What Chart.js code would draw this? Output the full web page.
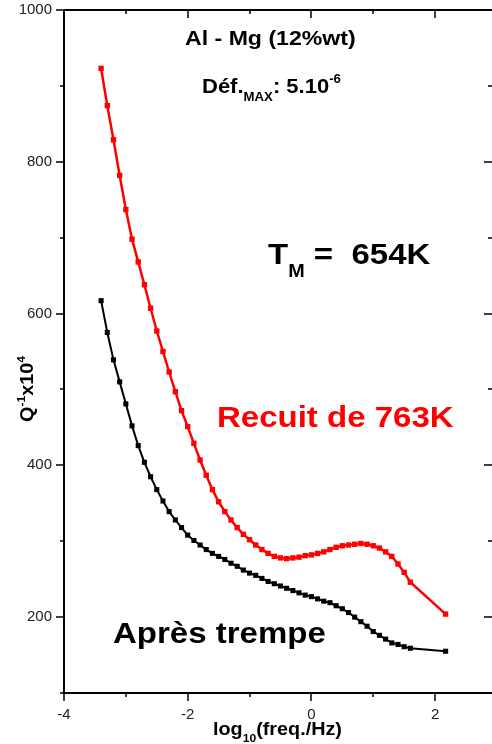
<!DOCTYPE html>
<html>
<head>
<meta charset="utf-8">
<script src="https://cdn.jsdelivr.net/npm/chart.js@4/dist/chart.umd.min.js"></script>
<style>
  html, body { margin: 0; padding: 0; background: #fff; }
  #box { width: 492px; height: 744px; }
</style>
</head>
<body>
<div id="box"><canvas id="dampingChart" width="492" height="744"></canvas></div>
<script>
// log10(freq/Hz) of each measured point
var logFreq = [-3.4, -3.3, -3.2, -3.1, -3.0, -2.9, -2.8, -2.7, -2.6, -2.5,
  -2.4, -2.3, -2.2, -2.1, -2.0, -1.9, -1.8, -1.7, -1.6, -1.5,
  -1.4, -1.3, -1.2, -1.1, -1.0, -0.9, -0.8, -0.7, -0.6, -0.5,
  -0.4, -0.3, -0.2, -0.1, 0.0, 0.1, 0.2, 0.3, 0.4, 0.5,
  0.6, 0.7, 0.8, 0.9, 1.0, 1.1, 1.2, 1.3, 1.4, 1.5,
  1.6, 2.17];

// Q^-1 x 10^4, annealed at 763K (red)
var recuit763K = [923, 874, 829, 782, 737, 698, 668, 638, 607, 577,
  550, 523, 497, 472, 451, 429, 407, 387, 368, 352,
  339, 328, 318, 309, 302, 295, 289, 284, 280, 278,
  277, 278, 279, 281, 282, 284, 286, 289, 292, 294,
  295, 296, 297, 296, 294, 291, 286, 280, 270, 259,
  246, 204];

// Q^-1 x 10^4, after quench (black)
var apresTrempe = [617, 575, 539, 510, 481, 452, 426, 404, 385, 368,
  353, 339, 328, 318, 308, 301, 295, 289, 284, 280,
  276, 271, 267, 262, 258, 255, 251, 247, 244, 241,
  238, 235, 232, 229, 227, 224, 221, 219, 215, 211,
  206, 200, 194, 188, 181, 176, 171, 166, 164, 161,
  159, 155];

var xTickLabels = [-4, -2, 0, 2];
var yTickLabels = [200, 400, 600, 800, 1000];

function toPoints(ys) {
  return logFreq.map(function (x, i) { return {x: x, y: ys[i]}; });
}

var FONT = '"Liberation Sans", Arial, sans-serif';

// draws bold text pieces one after another (for sub/superscripts)
function drawRuns(ctx, x, y, runs) {
  ctx.save();
  ctx.translate(x, y);
  ctx.scale(1.1, 1);
  ctx.textAlign = 'left';
  ctx.textBaseline = 'alphabetic';
  var cx = 0;
  runs.forEach(function (r) {
    ctx.font = 'bold ' + r.size + 'px ' + FONT;
    ctx.fillStyle = r.color || '#000';
    ctx.fillText(r.text, cx, r.dy || 0);
    cx += ctx.measureText(r.text).width;
  });
  ctx.restore();
}

var frameAndText = {
  id: 'frameAndText',
  afterDraw: function (chart) {
    var ctx = chart.ctx, a = chart.chartArea;
    var xs = chart.scales.x, ys = chart.scales.y;
    ctx.save();
    ctx.strokeStyle = '#000';
    ctx.lineWidth = 2;
    ctx.beginPath();
    ctx.moveTo(a.left, a.top); ctx.lineTo(a.left, a.bottom); ctx.lineTo(a.right, a.bottom);
    ctx.moveTo(a.left, a.top); ctx.lineTo(a.right, a.top);
    ctx.stroke();

    ctx.lineWidth = 1.5;
    ctx.beginPath();
    xs.ticks.forEach(function (t) {
      var px = Math.round(xs.getPixelForValue(t.value));
      var len = xTickLabels.indexOf(t.value) >= 0 ? 8 : 4;
      ctx.moveTo(px, a.bottom); ctx.lineTo(px, a.bottom + len);
      ctx.moveTo(px, a.top); ctx.lineTo(px, a.top + len);
    });
    ys.ticks.forEach(function (t) {
      var py = Math.round(ys.getPixelForValue(t.value));
      var len = yTickLabels.indexOf(t.value) >= 0 ? 8 : 4;
      ctx.moveTo(a.left - len, py); ctx.lineTo(a.left, py);
      ctx.moveTo(a.right - len, py); ctx.lineTo(a.right, py);
    });
    ctx.stroke();
    ctx.restore();

    // axis titles
    drawRuns(ctx, 213, 735, [
      {text: 'log', size: 18},
      {text: '10', size: 11, dy: 7},
      {text: '(freq./Hz)', size: 18}
    ]);
    ctx.save();
    ctx.translate(33, 422);
    ctx.rotate(-Math.PI / 2);
    drawRuns(ctx, 0, 0, [
      {text: 'Q', size: 18},
      {text: '-1', size: 11, dy: -8},
      {text: 'x10', size: 18},
      {text: '4', size: 11, dy: -8}
    ]);
    ctx.restore();

    // annotations
    drawRuns(ctx, 185, 45, [{text: 'Al - Mg (12%wt)', size: 21}]);
    drawRuns(ctx, 202, 93, [
      {text: 'Déf.', size: 20},
      {text: 'MAX', size: 12, dy: 8},
      {text: ': 5.10', size: 20},
      {text: '-6', size: 12, dy: -10}
    ]);
    drawRuns(ctx, 268, 264, [
      {text: 'T', size: 30},
      {text: 'M', size: 18, dy: 13},
      {text: ' =  654K', size: 30}
    ]);
    drawRuns(ctx, 217, 427, [{text: 'Recuit de 763K', size: 30, color: '#ff0000'}]);
    drawRuns(ctx, 113, 643, [{text: 'Après trempe', size: 30}]);
  }
};

var ctx = document.getElementById('dampingChart').getContext('2d');
var dampingChart = new Chart(ctx, {
  type: 'line',
  data: {
    datasets: [{
      label: 'Recuit de 763K',
      data: toPoints(recuit763K),
      borderColor: '#ff0000',
      backgroundColor: '#ff0000',
      borderWidth: 2.5,
      pointStyle: 'rect',
      pointRadius: 3.8,
      pointBorderWidth: 0,
      tension: 0
    }, {
      label: 'Après trempe',
      data: toPoints(apresTrempe),
      borderColor: '#000000',
      backgroundColor: '#000000',
      borderWidth: 2,
      pointStyle: 'rect',
      pointRadius: 3.6,
      pointBorderWidth: 0,
      tension: 0
    }]
  },
  options: {
    responsive: false,
    animation: false,
    devicePixelRatio: 1,
    layout: { autoPadding: false, padding: 0 },
    plugins: { legend: { display: false }, tooltip: { enabled: false } },
    scales: {
      x: {
        type: 'linear',
        min: -4,
        max: 2.92,
        border: { display: false },
        grid: { display: false, drawTicks: false },
        ticks: {
          stepSize: 1,
          includeBounds: false,
          autoSkip: false,
          maxRotation: 0,
          padding: 13,
          color: '#222',
          font: { size: 15, family: FONT },
          callback: function (v) { return xTickLabels.indexOf(v) >= 0 ? String(v) : ''; }
        },
        afterFit: function (s) { s.height = 51; s.paddingLeft = 0; s.paddingRight = 0; }
      },
      y: {
        min: 100,
        max: 1000,
        border: { display: false },
        grid: { display: false, drawTicks: false },
        ticks: {
          stepSize: 100,
          autoSkip: false,
          padding: 12,
          color: '#222',
          font: { size: 15, family: FONT },
          callback: function (v) { return yTickLabels.indexOf(v) >= 0 ? String(v) : ''; }
        },
        afterFit: function (s) { s.width = 64; s.paddingTop = 10; s.paddingBottom = 0; }
      }
    }
  },
  plugins: [frameAndText]
});
</script>
</body>
</html>
